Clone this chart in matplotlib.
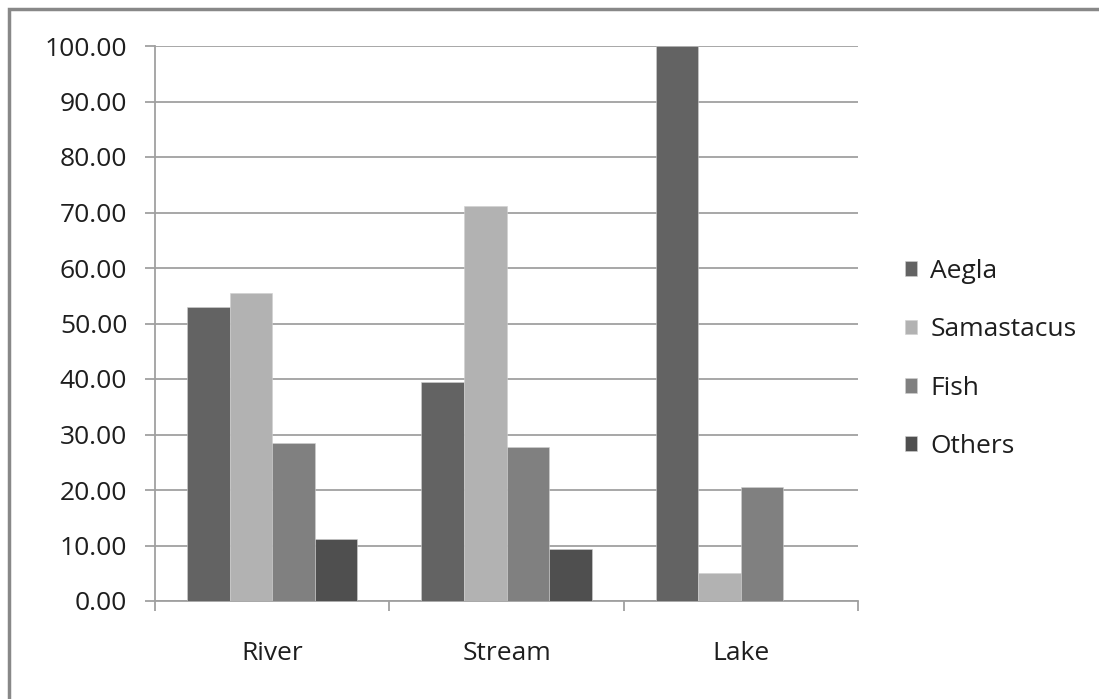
import matplotlib.pyplot as plt
from matplotlib.patches import Rectangle

# Share of diet items by habitat
habitats = ['River', 'Stream', 'Lake']
series_names = ['Aegla', 'Samastacus', 'Fish', 'Others']
aegla = [53.0, 39.5, 100.0]
samastacus = [55.5, 71.2, 5.0]
fish = [28.5, 27.7, 20.5]
others = [11.2, 9.3, 0.0]
yticks = [0, 10, 20, 30, 40, 50, 60, 70, 80, 90, 100]

colors = ['#636363', '#b2b2b2', '#808080', '#4f4f4f']
grid_col = '#a0a0a0'
txt_col = '#1e1e1e'

plt.rcParams['font.family'] = ['Open Sans', 'DejaVu Sans']

W, H = 1099, 699
fig = plt.figure(figsize=(W / 100, H / 100), dpi=100)
ax = fig.add_axes([155 / W, (H - 601) / H, (858 - 155) / W, (601 - 46) / H])

# outer chart frame (top and left edges visible)
fig.patches.append(Rectangle((9 / W, -0.1), 1.2, 1.1 - 9 / H,
                             transform=fig.transFigure, fill=False,
                             edgecolor='#888888', linewidth=2.5))

bar_w = 1 / 5.5
for j, (name, vals) in enumerate(zip(series_names, [aegla, samastacus, fish, others])):
    xs = [i + (j - 1.5) * bar_w for i in range(len(habitats))]
    ax.bar(xs, vals, width=bar_w, color=colors[j], label=name, zorder=3,
           edgecolor='#d0d0d0', linewidth=0.4)

ax.set_xlim(-0.5, len(habitats) - 0.5)
ax.set_ylim(0, 100)
ax.set_yticks(yticks)
ax.set_yticklabels([f'{v:.2f}' for v in yticks], fontsize=19, color=txt_col)
ax.yaxis.grid(True, color=grid_col, linewidth=1.3, zorder=0)

# category separators as ticks, labels centred in each slot
ax.set_xticks([-0.5, 0.5, 1.5, 2.5])
ax.set_xticklabels([])
ax.set_xticks(range(len(habitats)), minor=True)
ax.set_xticklabels(habitats, minor=True, fontsize=19, color=txt_col)
ax.tick_params(axis='x', which='minor', length=0, pad=29)
ax.tick_params(axis='x', which='major', length=7, color=grid_col, width=1.3)
ax.tick_params(axis='y', length=7, color=grid_col, width=1.3, pad=13)

for side in ['top', 'right']:
    ax.spines[side].set_visible(False)
for side in ['left', 'bottom']:
    ax.spines[side].set_color(grid_col)
    ax.spines[side].set_linewidth(1.3)

leg = ax.legend(loc='center left', bbox_to_anchor=(894 / W, 1 - 359 / H),
                bbox_transform=fig.transFigure, frameon=False, fontsize=19,
                handlelength=0.48, handleheight=0.48, handletextpad=0.5,
                labelspacing=1.26, borderaxespad=0)
for t in leg.get_texts():
    t.set_color(txt_col)

fig.savefig('out.png', dpi=100, facecolor='white')
